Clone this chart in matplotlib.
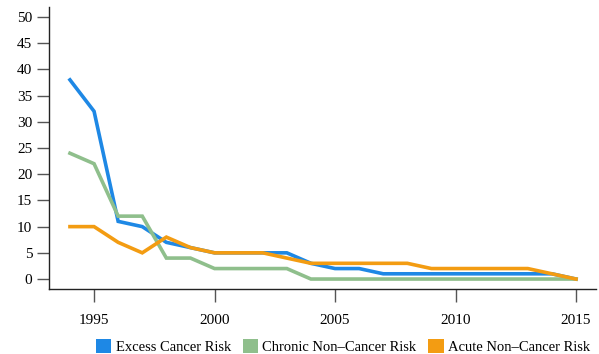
import matplotlib
matplotlib.use("Agg")
from matplotlib import pyplot as plt
from matplotlib.patches import Patch

years = list(range(1994, 2016))
excess = [38, 32, 11, 10, 7, 6, 5, 5, 5, 5, 3, 2, 2, 1, 1, 1, 1, 1, 1, 1, 1, 0]
chronic = [24, 22, 12, 12, 4, 4, 2, 2, 2, 2, 0, 0, 0, 0, 0, 0, 0, 0, 0, 0, 0, 0]
acute = [10, 10, 7, 5, 8, 6, 5, 5, 5, 4, 3, 3, 3, 3, 3, 2, 2, 2, 2, 2, 1, 0]
labels = ["Excess Cancer Risk", "Chronic Non\u2013Cancer Risk", "Acute Non\u2013Cancer Risk"]
colors = ["#1E88E5", "#8FBF8C", "#F39C12"]
yticks = list(range(0, 51, 5))
xticks = [1995, 2000, 2005, 2010, 2015]


def main():
    plt.rcParams["font.family"] = ["Liberation Serif", "DejaVu Serif"]
    plt.rcParams["font.size"] = 11
    fig = plt.figure(figsize=(5.99, 3.54), dpi=100)
    ax = fig.add_axes([49 / 599, 1 - 289 / 354, (596 - 49) / 599, (289 - 7) / 354])

    for vals, col in zip([excess, chronic, acute], colors):
        ax.plot(years, vals, color=col, lw=2.6, solid_joinstyle="miter")

    ax.set_xlim(1993.13, 2015.83)
    ax.set_ylim(-1.9, 51.9)
    ax.set_yticks(yticks)
    ax.set_xticks(xticks)
    for s in ["top", "right"]:
        ax.spines[s].set_visible(False)
    for s in ["left", "bottom"]:
        ax.spines[s].set_color("#222222")
        ax.spines[s].set_linewidth(1)
    ax.tick_params(axis="y", length=9, width=1, color="#555555", pad=3)
    ax.tick_params(axis="x", length=9, width=1, color="#555555", pad=9)

    handles = [Patch(facecolor=c, edgecolor="none") for c in colors]
    fig.legend(handles, labels, loc="lower right", bbox_to_anchor=(590 / 599, 0.0), ncol=3,
               frameon=False, borderpad=0, borderaxespad=0,
               handlelength=1.05, handleheight=1.05, handletextpad=0.3,
               columnspacing=0.8, fontsize=10.5)

    fig.savefig("out.png", dpi=100)


if __name__ == '__main__':
    main()
